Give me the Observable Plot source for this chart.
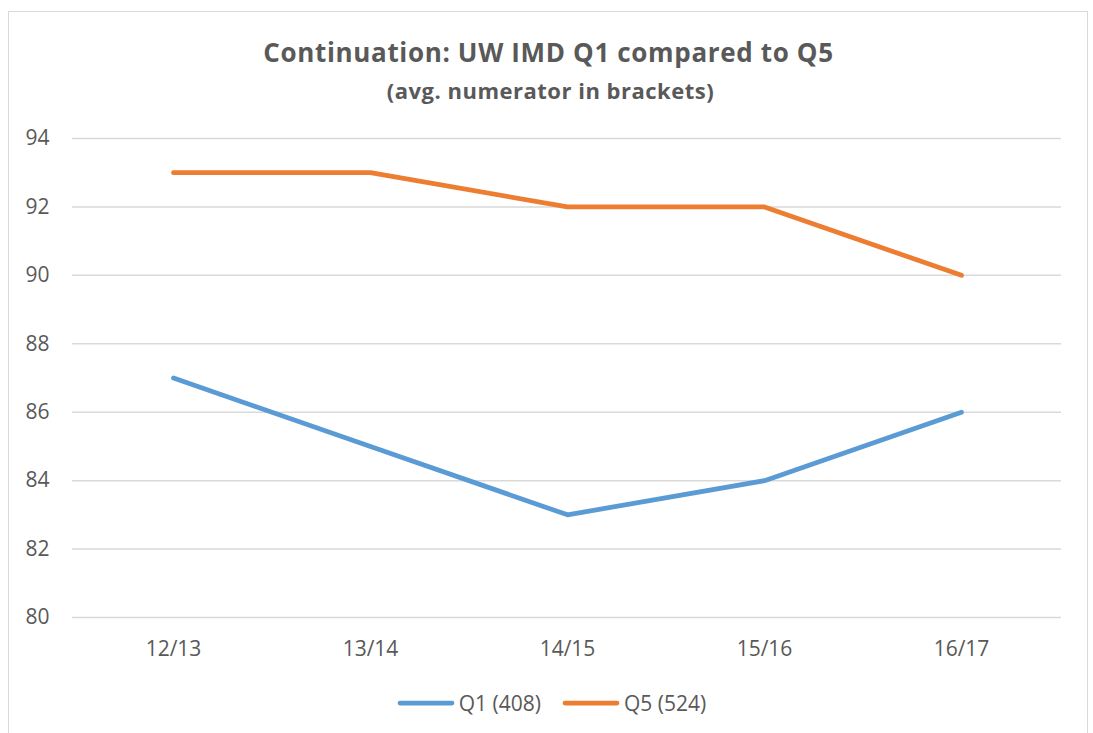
<!DOCTYPE html>
<html>
<head>
<meta charset="utf-8">
<script src="https://cdn.jsdelivr.net/npm/d3@7"></script>
<script src="https://cdn.jsdelivr.net/npm/@observablehq/plot@0.6"></script>
<style>
  html, body { margin: 0; padding: 0; background: #fff; }
  #wrap { position: relative; width: 1093px; height: 733px; overflow: hidden; font-family: "Open Sans", sans-serif; color: #595959; }
  #frame { position: absolute; left: 8px; top: 11px; width: 1080px; height: 740px; border: 1px solid #d9d9d9; box-sizing: border-box; }
  #title { position: absolute; left: 2px; width: 1093px; top: 33px; text-align: center; font-weight: bold; font-size: 26px; line-height: 38px; letter-spacing: 0.65px; }
  #subtitle { position: absolute; left: 4px; width: 1093px; top: 74px; text-align: center; font-weight: bold; font-size: 22px; line-height: 32px; letter-spacing: 0.5px; }
  #chart { position: absolute; left: 0; top: 120px; }
  #legend { position: absolute; left: 5px; width: 1093px; top: 688px; display: flex; justify-content: center; gap: 21px; font-size: 21px; line-height: 30px; }
  .item { display: flex; align-items: center; gap: 4px; }
</style>
</head>
<body>
<div id="wrap">
  <div id="frame"></div>
  <div id="title">Continuation: UW IMD Q1 compared to Q5</div>
  <div id="subtitle">(avg. numerator in brackets)</div>
  <div id="chart"></div>
  <div id="legend"></div>
</div>
<script>
const years = ["12/13", "13/14", "14/15", "15/16", "16/17"];
const q1 = [87, 85, 83, 84, 86];
const q5 = [93, 93, 92, 92, 90];
const seriesNames = ["Q1 (408)", "Q5 (524)"];
const seriesColors = ["#5B9BD5", "#ED7D31"];
const yTicks = [80, 82, 84, 86, 88, 90, 92, 94];

const data = [
  ...years.map((y, i) => ({year: y, value: q1[i], series: seriesNames[0]})),
  ...years.map((y, i) => ({year: y, value: q5[i], series: seriesNames[1]}))
];

const plot = Plot.plot({
  width: 1093,
  height: 560,
  marginLeft: 72,
  marginRight: 32,
  marginTop: 18,
  marginBottom: 63,
  style: {fontFamily: "Open Sans, sans-serif", fontSize: "21px", color: "#595959", background: "transparent"},
  x: {type: "point", domain: years, padding: 0.5, label: null},
  y: {domain: [80, 94], ticks: yTicks, label: null},
  color: {domain: seriesNames, range: seriesColors},
  marks: [
    Plot.gridY(yTicks, {stroke: "#d9d9d9", strokeOpacity: 1, strokeWidth: 1.5}),
    Plot.axisX({tickSize: 0, tickPadding: 24, fontSize: 21, fill: "#595959"}),
    Plot.axisY({ticks: yTicks, tickSize: 0, tickPadding: 23, fontSize: 21, fill: "#595959"}),
    Plot.line(data, {x: "year", y: "value", z: "series", stroke: "series", strokeWidth: 4.75, strokeLinecap: "round", strokeLinejoin: "round"})
  ]
});
document.getElementById("chart").appendChild(plot);

const legend = document.getElementById("legend");
seriesNames.forEach((name, i) => {
  const item = document.createElement("div");
  item.className = "item";
  item.innerHTML = `<svg width="58" height="10"><line x1="3" y1="5" x2="55" y2="5" stroke="${seriesColors[i]}" stroke-width="4.75" stroke-linecap="round"/></svg><span>${name}</span>`;
  legend.appendChild(item);
});
</script>
</body>
</html>
